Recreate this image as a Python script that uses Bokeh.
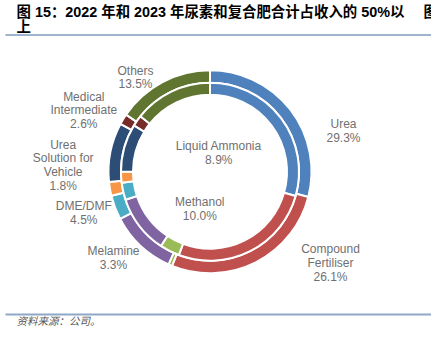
import numpy as np
from bokeh.plotting import figure
from bokeh.models import Range1d, ColumnDataSource
from bokeh.core.properties import value
from bokeh.embed import file_html
from bokeh.resources import INLINE

# ---------------- data ----------------
categories = ["Urea", "Compound Fertiliser", "Liquid Ammonia", "Methanol", "Melamine",
              "DME/DMF", "Urea Solution for Vehicle", "Medical Intermediate", "Others"]
colors = ["#4F81BD", "#C0504D", "#9BBB59", "#8064A2", "#4BACC6",
          "#F79646", "#2C4D75", "#772C2A", "#5F7530"]
share_outer = [29.0, 27.1, 0.6, 10.6, 3.9, 2.2, 9.4, 1.7, 15.5]   # outer ring (%)
share_inner = [29.4, 26.3, 3.6, 10.6, 3.1, 2.0, 8.7, 2.0, 14.3]   # inner ring (%)
label_lines = [["Urea"], ["Compound", "Fertiliser"], ["Liquid Ammonia"], ["Methanol"],
               ["Melamine"], ["DME/DMF"], ["Urea", "Solution for", "Vehicle"],
               ["Medical", "Intermediate"], ["Others"]]
label_pcts = ["29.3%", "26.1%", "8.9%", "10.0%", "3.3%", "4.5%", "1.8%", "2.6%", "13.5%"]

title_lines = ["图 15：2022 年和 2023 年尿素和复合肥合计占收入的 50%以", "上"]
source_text = "资料来源：公司。"

# ---------------- layout ----------------
W, H = 431, 337
CX, CY = 209.5, H - 171.2
R_OUT, R_MID, R_IN = 101.5, 89.0, 77.0
label_pos = [(343, 123.3), (330, 248.3), (218.3, 145.7), (199.3, 201.7), (113, 250.5),
             (83.3, 205.2), (62.7, 144.0), (83.3, 96.0), (135, 70.0)]
STEP = 13.9
FONT = value("Liberation Sans, Noto Sans CJK SC")

p = figure(width=W, height=H, x_range=Range1d(0, W), y_range=Range1d(0, H),
           output_backend="svg", toolbar_location=None, min_border=0,
           x_axis_type=None, y_axis_type=None, outline_line_color=None)
p.background_fill_color = "white"
p.border_fill_color = "white"
p.xgrid.visible = False
p.ygrid.visible = False


def ring(shares, r_in, r_out):
    frac = np.array(shares, dtype=float) / float(sum(shares))
    cum = np.concatenate([[0.0], np.cumsum(frac)]) * 2 * np.pi
    start = np.pi / 2 - cum[1:]
    end = np.pi / 2 - cum[:-1]
    src = ColumnDataSource(dict(x=[CX] * len(shares), y=[CY] * len(shares),
                                start=start, end=end, color=colors, cat=categories))
    p.annular_wedge(x="x", y="y", inner_radius=r_in, outer_radius=r_out,
                    start_angle="start", end_angle="end", direction="anticlock",
                    fill_color="color", line_color="white", line_width=2, source=src)


ring(share_outer, R_MID, R_OUT)
ring(share_inner, R_IN, R_MID)

# data labels
lx, ly, lt = [], [], []
for (x0, y0), names, pct in zip(label_pos, label_lines, label_pcts):
    for i, t in enumerate(names + [pct]):
        lx.append(x0)
        ly.append(H - (y0 + i * STEP))
        lt.append(t)
p.text(x=lx, y=ly, text=lt, text_align="center", text_baseline="middle",
       text_font=FONT, text_font_size="12px", text_color="#707070")

# title
p.text(x=[16, 16], y=[H - 11, H - 26], text=title_lines, text_align="left",
       text_baseline="middle", text_font=FONT, text_font_size="14.4px",
       text_font_style="bold", text_color="#000000")
p.text(x=[423], y=[H - 11], text=["图"], text_align="left", text_baseline="middle",
       text_font=FONT, text_font_size="14.4px", text_font_style="bold", text_color="#000000")

# rules
p.segment(x0=[5], y0=[H - 34.5], x1=[W], y1=[H - 34.5], line_color="#3d6a98", line_width=1)
p.segment(x0=[5], y0=[H - 314], x1=[W], y1=[H - 314], line_color="#8fa8c6", line_width=2)

# source
p.text(x=[16], y=[H - 320], text=[source_text], text_align="left", text_baseline="middle",
       text_font=value("Noto Sans CJK SC"), text_font_size="10.5px",
       text_font_style="italic", text_color="#555555")

open("out.html", "w").write(file_html(p, INLINE))
